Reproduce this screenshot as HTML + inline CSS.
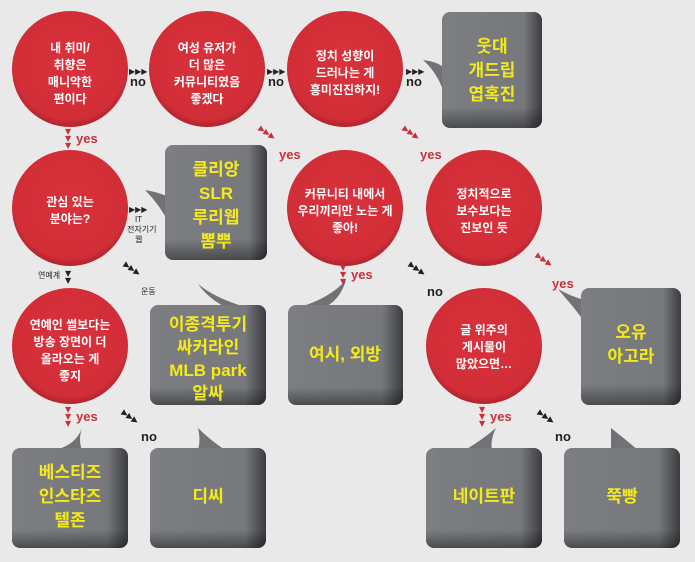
<!DOCTYPE html>
<html><head><meta charset="utf-8"><style>
html,body{margin:0;padding:0;background:#e9e9e9;}
svg{display:block}
.c{font-family:"Liberation Sans","Noto Sans CJK KR",sans-serif;font-weight:bold;fill:#fff;font-size:12px;text-anchor:middle}
.b{font-family:"Liberation Sans","Noto Sans CJK KR",sans-serif;font-weight:bold;fill:#f4ea1a;font-size:17px;text-anchor:middle}
.y{font-family:"Liberation Sans","Noto Sans CJK KR",sans-serif;font-weight:bold;fill:#c8323c;font-size:13px}
.n{font-family:"Liberation Sans","Noto Sans CJK KR",sans-serif;font-weight:bold;fill:#222;font-size:13px}
.s{font-family:"Liberation Sans","Noto Sans CJK KR",sans-serif;fill:#222;font-size:8px}
.ar{font-family:"DejaVu Sans",sans-serif;font-size:8px}
</style></head><body>
<svg width="695" height="562" viewBox="0 0 695 562" xmlns="http://www.w3.org/2000/svg">
<defs>
<radialGradient id="rg" cx="50%" cy="45%" r="55%">
<stop offset="0" stop-color="#d8323c"/><stop offset="0.88" stop-color="#d22e38"/><stop offset="1" stop-color="#b0242c"/>
</radialGradient>
<linearGradient id="gx" x1="0" x2="1" y1="0" y2="0">
<stop offset="0" stop-color="#7c7e82"/><stop offset="0.82" stop-color="#76787c"/><stop offset="1" stop-color="#3a3c3f"/>
</linearGradient>
<linearGradient id="gy" x1="0" x2="0" y1="0" y2="1">
<stop offset="0.82" stop-color="#000" stop-opacity="0"/><stop offset="1" stop-color="#000" stop-opacity="0.4"/>
</linearGradient>
</defs>
<rect width="695" height="562" fill="#e9e9e9"/>

<!-- box tails -->
<g fill="#707276">
<path d="M423,60 Q440,62 446,70 L446,100 Q440,75 423,60Z"/>
<path d="M145,190 Q162,193 170,198 L170,225 Q160,205 145,190Z"/>
<path d="M198,284 Q208,298 225,307 L245,307 Q215,298 198,284Z"/>
<path d="M346,280 Q340,300 325,307 L300,307 Q330,298 346,280Z"/>
<path d="M558,289 Q572,297 585,300 L585,322 Q572,305 558,289Z"/>
<path d="M82,428 Q76,445 55,450 L82,450 Q78,440 82,428Z"/>
<path d="M198,428 Q210,440 225,450 L198,450 Q201,440 198,428Z"/>
<path d="M496,428 Q482,440 465,450 L492,450 Q490,440 496,428Z"/>
<path d="M611,428 Q626,440 638,450 L611,450 Q611,440 611,428Z"/>
</g>

<!-- boxes -->
<g>
<rect x="442" y="12" width="100" height="116" rx="8" fill="url(#gx)"/><rect x="442" y="12" width="100" height="116" rx="8" fill="url(#gy)"/>
<rect x="165" y="145" width="102" height="115" rx="8" fill="url(#gx)"/><rect x="165" y="145" width="102" height="115" rx="8" fill="url(#gy)"/>
<rect x="150" y="305" width="116" height="100" rx="8" fill="url(#gx)"/><rect x="150" y="305" width="116" height="100" rx="8" fill="url(#gy)"/>
<rect x="288" y="305" width="115" height="100" rx="8" fill="url(#gx)"/><rect x="288" y="305" width="115" height="100" rx="8" fill="url(#gy)"/>
<rect x="581" y="288" width="100" height="117" rx="8" fill="url(#gx)"/><rect x="581" y="288" width="100" height="117" rx="8" fill="url(#gy)"/>
<rect x="12" y="448" width="116" height="100" rx="8" fill="url(#gx)"/><rect x="12" y="448" width="116" height="100" rx="8" fill="url(#gy)"/>
<rect x="150" y="448" width="116" height="100" rx="8" fill="url(#gx)"/><rect x="150" y="448" width="116" height="100" rx="8" fill="url(#gy)"/>
<rect x="426" y="448" width="116" height="100" rx="8" fill="url(#gx)"/><rect x="426" y="448" width="116" height="100" rx="8" fill="url(#gy)"/>
<rect x="564" y="448" width="116" height="100" rx="8" fill="url(#gx)"/><rect x="564" y="448" width="116" height="100" rx="8" fill="url(#gy)"/>
</g>

<!-- circles -->
<g fill="url(#rg)">
<circle cx="70" cy="69" r="58"/><circle cx="207" cy="69" r="58"/><circle cx="345" cy="69" r="58"/>
<circle cx="70" cy="208" r="58"/><circle cx="345" cy="208" r="58"/><circle cx="484" cy="208" r="58"/>
<circle cx="70" cy="346" r="58"/><circle cx="484" cy="346" r="58"/>
</g>

<!-- circle text -->
<text class="c" x="70" y="52">내 취미/</text><text class="c" x="70" y="69">취향은</text><text class="c" x="70" y="86">매니악한</text><text class="c" x="70" y="103">편이다</text>
<text class="c" x="207" y="52">여성 유저가</text><text class="c" x="207" y="69">더 많은</text><text class="c" x="207" y="86">커뮤니티였음</text><text class="c" x="207" y="103">좋겠다</text>
<text class="c" x="345" y="60">정치 성향이</text><text class="c" x="345" y="77">드러나는 게</text><text class="c" x="345" y="94">흥미진진하지!</text>
<text class="c" x="70" y="206">관심 있는</text><text class="c" x="70" y="223">분야는?</text>
<text class="c" x="345" y="198">커뮤니티 내에서</text><text class="c" x="345" y="215">우리끼리만 노는 게</text><text class="c" x="345" y="232">좋아!</text>
<text class="c" x="484" y="198">정치적으로</text><text class="c" x="484" y="215">보수보다는</text><text class="c" x="484" y="232">진보인 듯</text>
<text class="c" x="70" y="329">연예인 썰보다는</text><text class="c" x="70" y="346">방송 장면이 더</text><text class="c" x="70" y="363">올라오는 게</text><text class="c" x="70" y="380">좋지</text>
<text class="c" x="484" y="334">글 위주의</text><text class="c" x="484" y="351">게시물이</text><text class="c" x="484" y="368">많았으면…</text>

<!-- box text -->
<text class="b" x="492" y="52">웃대</text><text class="b" x="492" y="76">개드립</text><text class="b" x="492" y="100">엽혹진</text>
<text class="b" x="216" y="175">클리앙</text><text class="b" x="216" y="199">SLR</text><text class="b" x="216" y="223">루리웹</text><text class="b" x="216" y="247">뽐뿌</text>
<text class="b" x="208" y="330">이종격투기</text><text class="b" x="208" y="353">싸커라인</text><text class="b" x="208" y="376">MLB park</text><text class="b" x="208" y="399">알싸</text>
<text class="b" x="345" y="360">여시, 외방</text>
<text class="b" x="631" y="338">오유</text><text class="b" x="631" y="362">아고라</text>
<text class="b" x="70" y="478">베스티즈</text><text class="b" x="70" y="502">인스타즈</text><text class="b" x="70" y="526">텔존</text>
<text class="b" x="208" y="502">디씨</text>
<text class="b" x="484" y="502">네이트판</text>
<text class="b" x="622" y="502">쭉빵</text>

<!-- connectors -->
<text class="ar" x="129" y="74" fill="#222">▶▶▶</text><text class="n" x="130" y="86">no</text>
<text class="ar" x="267" y="74" fill="#222">▶▶▶</text><text class="n" x="268" y="86">no</text>
<text class="ar" x="406" y="74" fill="#222">▶▶▶</text><text class="n" x="406" y="86">no</text>
<text class="ar" x="65" y="134" fill="#c8323c">▼</text><text class="ar" x="65" y="141" fill="#c8323c">▼</text><text class="ar" x="65" y="148" fill="#c8323c">▼</text><text class="y" x="76" y="143">yes</text>
<text class="ar" x="258" y="134" fill="#c8323c" transform="rotate(35 265 132)">▶▶▶</text><text class="y" x="279" y="159">yes</text>
<text class="ar" x="402" y="134" fill="#c8323c" transform="rotate(35 409 132)">▶▶▶</text><text class="y" x="420" y="159">yes</text>
<text class="ar" x="129" y="212" fill="#222">▶▶▶</text><text class="s" x="135" y="222">IT</text><text class="s" x="127" y="232">전자기기</text><text class="s" x="135" y="242">웹</text>
<text class="s" x="38" y="278">연예계</text><text class="ar" x="65" y="276" fill="#222">▼</text><text class="ar" x="65" y="283" fill="#222">▼</text>
<text class="ar" x="123" y="270" fill="#222" transform="rotate(35 130 268)">▶▶▶</text><text class="s" x="141" y="294">운동</text>
<text class="ar" x="340" y="270" fill="#c8323c">▼</text><text class="ar" x="340" y="277" fill="#c8323c">▼</text><text class="ar" x="340" y="284" fill="#c8323c">▼</text><text class="y" x="351" y="279">yes</text>
<text class="ar" x="408" y="270" fill="#222" transform="rotate(35 415 268)">▶▶▶</text><text class="n" x="427" y="296">no</text>
<text class="ar" x="535" y="261" fill="#c8323c" transform="rotate(35 542 259)">▶▶▶</text><text class="y" x="552" y="288">yes</text>
<text class="ar" x="65" y="412" fill="#c8323c">▼</text><text class="ar" x="65" y="419" fill="#c8323c">▼</text><text class="ar" x="65" y="426" fill="#c8323c">▼</text><text class="y" x="76" y="421">yes</text>
<text class="ar" x="121" y="418" fill="#222" transform="rotate(35 128 416)">▶▶▶</text><text class="n" x="141" y="441">no</text>
<text class="ar" x="479" y="412" fill="#c8323c">▼</text><text class="ar" x="479" y="419" fill="#c8323c">▼</text><text class="ar" x="479" y="426" fill="#c8323c">▼</text><text class="y" x="490" y="421">yes</text>
<text class="ar" x="537" y="418" fill="#222" transform="rotate(35 544 416)">▶▶▶</text><text class="n" x="555" y="441">no</text>
</svg>
</body></html>
